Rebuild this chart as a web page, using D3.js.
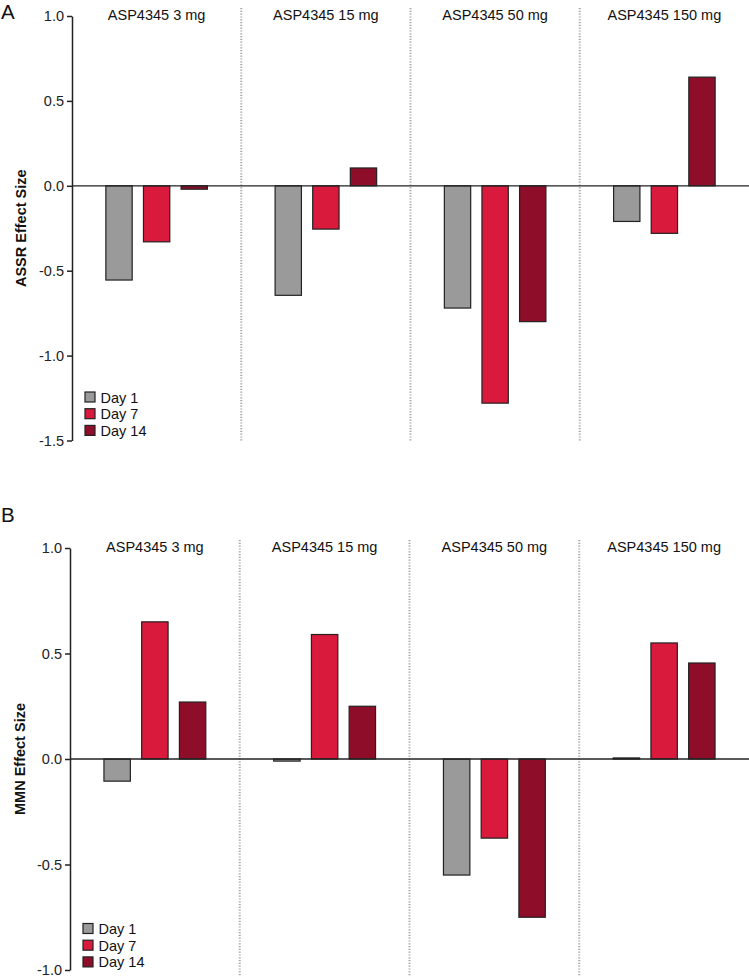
<!DOCTYPE html>
<html><head><meta charset="utf-8">
<script src="https://cdn.jsdelivr.net/npm/d3@7"></script>
<style>body{margin:0;background:#fff}svg{display:block;font-family:"Liberation Sans",Arial,sans-serif}</style>
</head><body>
<svg id="c" width="749" height="976"></svg>
<script>
const doses = ["ASP4345 3 mg","ASP4345 15 mg","ASP4345 50 mg","ASP4345 150 mg"];
const days = ["Day 1","Day 7","Day 14"];
const colors = ["#9a9a9a","#d91a3c","#8e0d28"];
// ASSR effect size, per dose: [Day1, Day7, Day14]
const assr = [[-0.555,-0.33,-0.02],[-0.645,-0.255,0.105],[-0.72,-1.28,-0.80],[-0.21,-0.28,0.64]];
// MMN effect size
const mmn = [[-0.105,0.65,0.27],[-0.01,0.59,0.25],[-0.55,-0.375,-0.75],[0.005,0.55,0.455]];
const assrTicks = [1.0,0.5,0.0,-0.5,-1.0,-1.5];
const mmnTicks = [1.0,0.5,0.0,-0.5,-1.0];

const svg = d3.select("#c");

function panel(o){
  const g = svg.append("g");
  const y = d3.scaleLinear().domain([o.ticks[o.ticks.length-1], o.ticks[0]]).range([o.bottom, o.top]);
  const x0 = d3.scaleBand().domain(doses).range([o.left, 749]);
  const x1 = d3.scaleBand().domain(days).range([0, x0.bandwidth()]).paddingInner(0.3).paddingOuter(0.9);
  // dividers
  g.selectAll("line.div").data(doses.slice(1)).enter().append("line")
    .attr("x1", d=>x0(d)).attr("x2", d=>x0(d))
    .attr("y1", o.divTop).attr("y2", o.divBottom)
    .attr("stroke","#a8a8a8").attr("stroke-width",2).attr("stroke-dasharray","1.2,1.6");
  // titles
  g.selectAll("text.t").data(doses).enter().append("text")
    .attr("x", d=>x0(d)+x0.bandwidth()/2).attr("y", o.titleY)
    .attr("text-anchor","middle").attr("font-size",14.5).attr("fill","#111").text(d=>d);
  // bars
  doses.forEach((d,i)=>{
    g.selectAll(null).data(o.data[i]).enter().append("rect")
      .attr("x",(v,j)=>x0(d)+x1(days[j]))
      .attr("width",x1.bandwidth())
      .attr("y",v=>y(Math.max(0,v)))
      .attr("height",v=>Math.abs(y(v)-y(0)))
      .attr("fill",(v,j)=>colors[j]).attr("stroke","#222").attr("stroke-width",1.2);
  });
  // zero line
  g.append("line").attr("x1",o.left).attr("x2",749).attr("y1",y(0)).attr("y2",y(0))
    .attr("stroke","#222").attr("stroke-width",1.3);
  // axis
  const ax = g.append("g").attr("transform",`translate(${o.left},0)`)
    .call(d3.axisLeft(y).tickValues(o.ticks).tickSize(5).tickSizeOuter(0).tickPadding(3).tickFormat(v=>v.toFixed(1)));
  ax.select(".domain").attr("stroke","#222").attr("stroke-width",1.5);
  ax.selectAll(".tick line").attr("stroke","#222").attr("stroke-width",1.5);
  ax.selectAll(".tick text").attr("font-size",14.5).attr("fill","#222").attr("font-family","Liberation Sans, Arial, sans-serif");
  // y label
  g.append("text").attr("transform",`translate(${o.labelX},${(o.top+o.bottom)/2}) rotate(-90)`)
    .attr("text-anchor","middle").attr("font-size",14.5).attr("font-weight","bold").attr("fill","#111").text(o.label);
  // panel letter
  g.append("text").attr("x",1).attr("y",o.letterY).attr("font-size",20.5).attr("fill","#111").text(o.letter);
  // legend
  const lg = g.append("g").attr("transform",`translate(${o.legX},${o.legY})`);
  days.forEach((d,j)=>{
    lg.append("rect").attr("x",0).attr("y",j*16.7).attr("width",10).attr("height",10)
      .attr("fill",colors[j]).attr("stroke","#222").attr("stroke-width",1.2);
    lg.append("text").attr("x",15.5).attr("y",j*16.7+10.5).attr("font-size",14.5).attr("fill","#111").text(d);
  });
}

panel({data:assr, ticks:assrTicks, top:16, bottom:440.5, left:72, divTop:8, divBottom:442,
  titleY:20, label:"ASSR Effect Size", labelX:26, letter:"A", letterY:18.5, legX:85, legY:392});
panel({data:mmn, ticks:mmnTicks, top:548, bottom:970, left:70, divTop:540, divBottom:976,
  titleY:552, label:"MMN Effect Size", labelX:25, letter:"B", letterY:522, legX:83, legY:923.5});
</script>
</body></html>
